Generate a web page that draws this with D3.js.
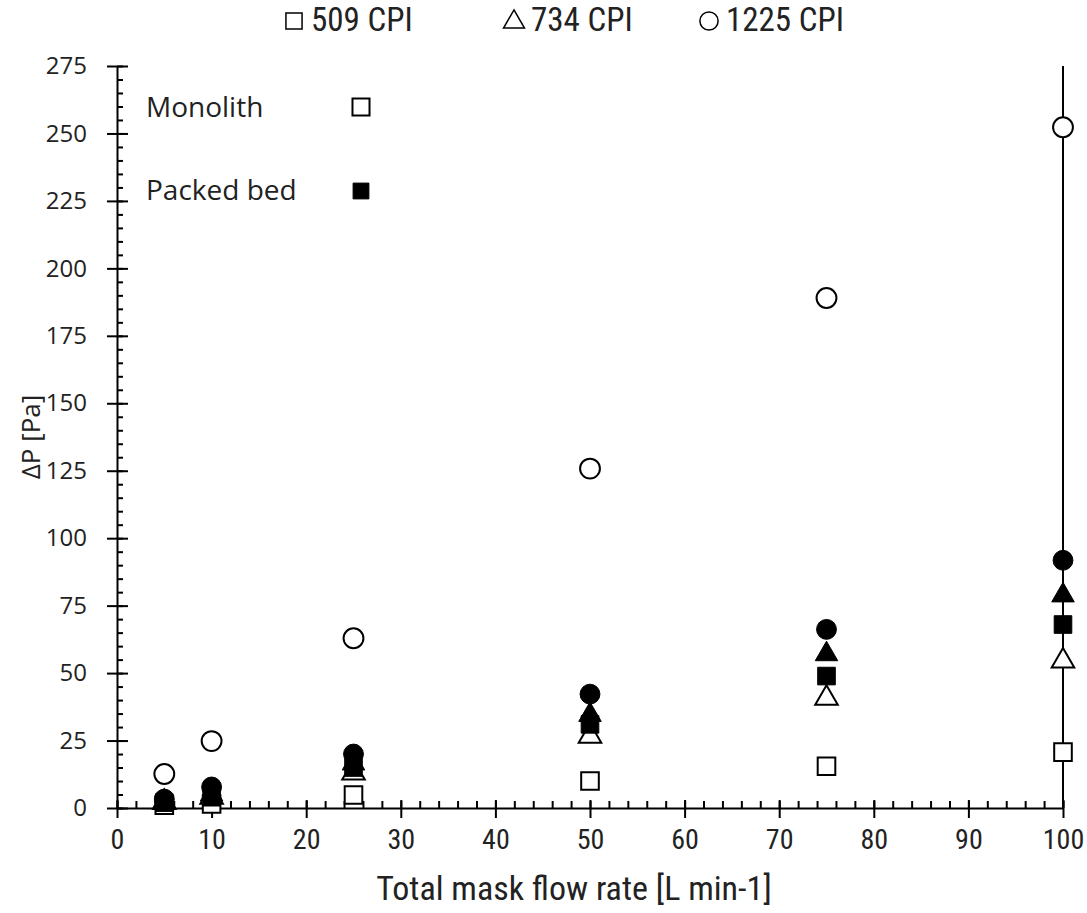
<!DOCTYPE html>
<html>
<head>
<meta charset="utf-8">
<script src="https://cdn.jsdelivr.net/npm/d3@7"></script>
<style>
  body { margin: 0; background: #fff; }
  svg { display: block; }
</style>
</head>
<body>
<svg id="chart"></svg>
<script>
// flow rates [L min-1]
const flows = [5, 10, 25, 50, 75, 100];

// monolith (open markers)
const mono509 = [1, 1.5, 4.8, 10, 15.5, 20.7];
const mono734 = [2, 4, 13, 26.6, 40.7, 54.5];
const mono1225 = [12.6, 24.8, 62.9, 125.8, 189, 252.3];

// packed bed (filled markers)
const packed509 = [2, 4, 15, 31, 48.9, 68];
const packed734 = [2.5, 5, 16.5, 34.5, 57, 78.8];
const packed1225 = [3.3, 7.8, 20, 42.2, 66.2, 91.8];

const xTicks = d3.range(0, 101, 10);
const yTicks = d3.range(0, 276, 25);
const legendLabels = ['509 CPI', '734 CPI', '1225 CPI'];

const width = 1087, height = 913;
const margin = {top: 66, right: 24, bottom: 105, left: 117};

const svg = d3.select('#chart')
    .attr('width', width)
    .attr('height', height)
    .style('background-color', 'white');

const x = d3.scaleLinear()
    .domain([0, 100])
    .range([margin.left, width - margin.right]);

const y = d3.scaleLinear()
    .domain([0, 275])
    .range([height - margin.bottom, margin.top]);

const tickFont = "'Open Sans', 'Noto Sans', sans-serif";
const narrowFont = "'Liberation Sans Narrow', 'Roboto Condensed', 'DejaVu Sans Condensed', sans-serif";

// minor ticks first
svg.append('g')
    .attr('transform', `translate(${x(0)},0)`)
    .call(d3.axisRight(y).tickValues(d3.range(0, 276, 5)).tickSize(6).tickFormat(''))
    .call(g => g.select('.domain').remove());

svg.append('g')
    .attr('transform', `translate(0,${y(0)})`)
    .call(d3.axisTop(x).tickValues(d3.range(0, 101, 2)).tickSize(7).tickFormat(''))
    .call(g => g.select('.domain').remove());

// y axis (major ticks crossing)
const gy = svg.append('g')
    .attr('transform', `translate(${x(0)},0)`)
    .call(d3.axisLeft(y).tickValues(yTicks).tickSize(10).tickPadding(20).tickSizeOuter(0))
gy.selectAll('.tick line').attr('x2', -10).attr('x1', 11);
gy.selectAll('text')
    .style('font-family', tickFont)
    .style('font-size', '24px')
    .attr('fill', '#222');

// x axis
const gx = svg.append('g')
    .attr('transform', `translate(0,${y(0)})`)
    .call(d3.axisBottom(x).tickValues(xTicks).tickSize(9).tickPadding(12).tickSizeOuter(0))
gx.selectAll('.tick line').attr('y1', -8).attr('y2', 10);
gx.selectAll('text')
    .style('font-family', narrowFont)
    .style('font-size', '28px')
    .attr('fill', '#222');

svg.selectAll('.domain').attr('stroke-width', 2);
svg.selectAll('.tick line').attr('stroke-width', 2);

// right border line
svg.append('line')
    .attr('x1', x(100)).attr('x2', x(100))
    .attr('y1', y(275)).attr('y2', y(0))
    .attr('stroke', 'black')
    .attr('stroke-width', 2);

// axis titles
svg.append('text')
    .attr('x', 574)
    .attr('y', 900)
    .attr('text-anchor', 'middle')
    .style('font-family', narrowFont)
    .style('font-size', '34px')
    .attr('fill', '#222')
    .text('Total mask flow rate [L min-1]');

svg.append('text')
    .attr('transform', `translate(40,${y(137.5)}) rotate(-90)`)
    .attr('text-anchor', 'middle')
    .style('font-family', tickFont)
    .style('font-size', '26px')
    .attr('fill', '#222')
    .text('ΔP [Pa]');

// marker shapes
const symbolOf = {
    square: d3.symbol().type(d3.symbolSquare).size(310),
    triangle: d3.symbol().type(d3.symbolTriangle).size(220),
    circle: d3.symbol().type(d3.symbolCircle).size(310)
};

const series = [
    {vals: mono509, shape: 'square', filled: false},
    {vals: mono734, shape: 'triangle', filled: false},
    {vals: mono1225, shape: 'circle', filled: false},
    {vals: packed509, shape: 'square', filled: true},
    {vals: packed734, shape: 'triangle', filled: true},
    {vals: packed1225, shape: 'circle', filled: true}
];

series.forEach(s => {
    svg.append('g')
        .selectAll('path')
        .data(flows.map((f, i) => ({f, v: s.vals[i]})))
        .join('path')
            .attr('d', symbolOf[s.shape])
            .attr('transform', d => `translate(${x(d.f)},${y(d.v)})`)
            .attr('fill', s.filled ? 'black' : 'white')
            .attr('stroke', 'black')
            .attr('stroke-width', s.filled ? 1 : 2);
});

// top legend
const legendX = [285, 505, 700];
const legendTypes = [d3.symbolSquare, d3.symbolTriangle, d3.symbolCircle];
legendLabels.forEach((lab, i) => {
    svg.append('path')
        .attr('d', d3.symbol().type(legendTypes[i]).size(i === 1 ? 190 : 260))
        .attr('transform', `translate(${legendX[i] + 9},${i === 1 ? 22 : 21})`)
        .attr('fill', 'white')
        .attr('stroke', 'black')
        .attr('stroke-width', 1.5);
    svg.append('text')
        .attr('x', legendX[i] + 26)
        .attr('y', 31)
        .style('font-family', narrowFont)
        .style('font-size', '33px')
        .attr('fill', '#222')
        .text(lab);
});

// inner legend
svg.append('text')
    .attr('x', 146).attr('y', 117)
    .style('font-family', tickFont)
    .style('font-size', '28px')
    .attr('fill', '#222')
    .text('Monolith');
svg.append('path')
    .attr('d', d3.symbol().type(d3.symbolSquare).size(290))
    .attr('transform', 'translate(361,107)')
    .attr('fill', 'white').attr('stroke', 'black').attr('stroke-width', 2);

svg.append('text')
    .attr('x', 146).attr('y', 200)
    .style('font-family', tickFont)
    .style('font-size', '28px')
    .attr('fill', '#222')
    .text('Packed bed');
svg.append('path')
    .attr('d', d3.symbol().type(d3.symbolSquare).size(250))
    .attr('transform', 'translate(361,191)')
    .attr('fill', 'black').attr('stroke', 'black');
</script>
</body>
</html>
